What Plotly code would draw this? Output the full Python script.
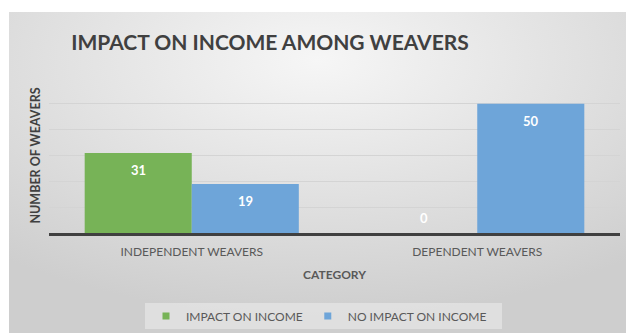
import base64
import plotly.graph_objects as go

categories = ["INDEPENDENT WEAVERS", "DEPENDENT WEAVERS"]
impact = [31, 0]
no_impact = [19, 50]
series_names = ["IMPACT ON INCOME", "NO IMPACT ON INCOME"]
series_values = [impact, no_impact]
colors = ["#77b357", "#6ea5d9"]
y_ticks = [0, 10, 20, 30, 40, 50, 60]

W, H = 626, 333
L, R, T, B = 49, 6, 78, 100
PW, PH = W - L - R, H - T - B
FONT = "Lato"

fig = go.Figure()
for name, vals, col in zip(series_names, series_values, colors):
    fig.add_trace(go.Bar(
        x=categories, y=vals, name=name, marker=dict(color=col, line=dict(width=0)),
        showlegend=False,
    ))
    fig.add_trace(go.Scatter(
        x=[None], y=[None], mode="markers", name=name,
        marker=dict(symbol="square", size=7, color=col),
    ))

# data labels
offsets = [-0.1875, 0.1875]
annotations = []
for vals, off in zip(series_values, offsets):
    for i, v in enumerate(vals):
        annotations.append(dict(
            x=i + off, y=v, xref="x", yref="y", text=str(v), showarrow=False,
            yshift=(15 if v == 0 else -17),
            font=dict(family=FONT, size=13, color="white", weight="bold"),
        ))

# background gradient (chart area)
svg = ('<svg xmlns="http://www.w3.org/2000/svg" width="617" height="321">'
       '<defs><radialGradient id="g" cx="50%" cy="15%" r="80%">'
       '<stop offset="0" stop-color="#f6f6f6"/><stop offset="1" stop-color="#cecece"/>'
       '</radialGradient></defs><rect width="617" height="321" fill="url(#g)"/></svg>')
src = "data:image/svg+xml;base64," + base64.b64encode(svg.encode()).decode()

def px_x(p):
    return (p - L) / PW

def px_y(p):
    return (H - B - p) / PH

fig.update_layout(
    width=W, height=H,
    margin=dict(l=L, r=R, t=T, b=B, autoexpand=False),
    paper_bgcolor="white", plot_bgcolor="rgba(0,0,0,0)",
    barmode="group", bargap=0.25, bargroupgap=0,
    font=dict(family=FONT, color="#595959", size=12),
    title=dict(text="IMPACT ON INCOME AMONG WEAVERS", xref="container", yref="container",
               x=270 / W, y=1 - 43 / H, xanchor="center", yanchor="middle",
               font=dict(family=FONT, size=21, color="#404040", weight="bold")),
    images=[dict(source=src, xref="paper", yref="paper", x=px_x(9), y=px_y(12),
                 sizex=617 / PW, sizey=321 / PH, xanchor="left", yanchor="top",
                 sizing="stretch", layer="below")],
    shapes=[dict(type="rect", xref="paper", yref="paper", x0=px_x(145), x1=px_x(502),
                 y0=px_y(329), y1=px_y(303), fillcolor="rgba(255,255,255,0.35)",
                 line=dict(width=0), layer="below")],
    legend=dict(orientation="h", x=px_x(146), xanchor="left", y=px_y(316), yanchor="middle",
                bgcolor="rgba(0,0,0,0)", font=dict(family=FONT, size=12, color="#595959"),
                itemwidth=30),
    annotations=annotations,
    xaxis=dict(showgrid=False, showline=True, linecolor="#404040", linewidth=3,
               ticks="", ticklabelstandoff=6, tickfont=dict(size=12, color="#595959"),
               title=dict(text="CATEGORY", standoff=13,
                          font=dict(family=FONT, size=12, color="#595959", weight="bold"))),
    yaxis=dict(range=[0, 60], tickvals=y_ticks, showticklabels=False, showgrid=True,
               gridcolor="#d4d4d4", gridwidth=1, zeroline=False, showline=False,
               title=dict(text="NUMBER OF WEAVERS", standoff=4,
                          font=dict(family=FONT, size=12.5, color="#404040", weight="bold"))),
)

fig.write_html("out.html")
